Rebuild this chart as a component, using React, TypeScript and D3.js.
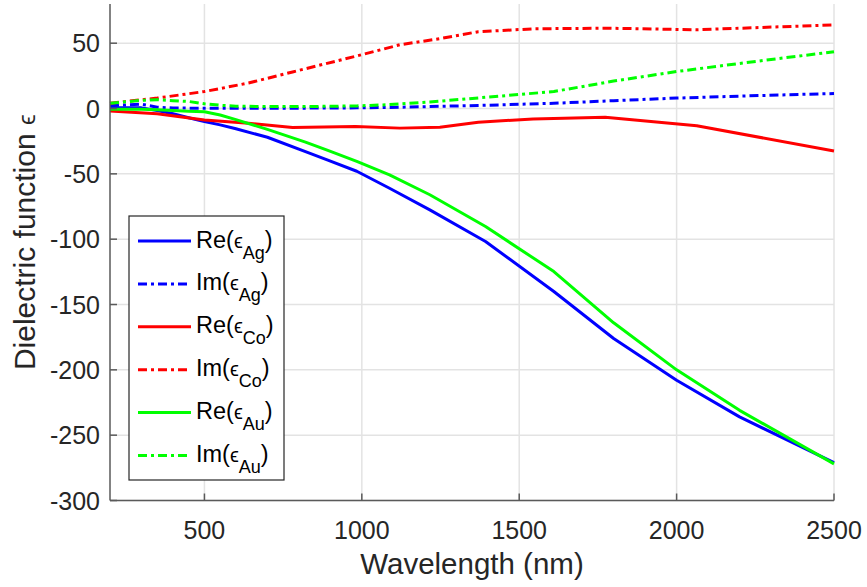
import React from "react";
import * as d3 from "d3";

// Wavelength grids (nm)
const lambdaAgAu = [200, 300, 350, 400, 450, 500, 550, 600, 700, 821, 892, 984, 1088, 1216, 1393, 1610, 1800, 2000, 2200, 2500];
const reAg = [0.5, 0.5, -1.5, -4, -7, -10, -12.5, -15.5, -22, -33, -39.5, -48, -61, -77.6, -101.8, -140, -176, -208, -236, -271];
const imAg = [2.2, 3.3, 1, 0.4, 0.3, 0.3, 0.3, 0.3, 0.3, 0.3, 0.4, 0.5, 0.8, 1.5, 2.5, 4, 6, 8, 9.5, 11.5];
const reAu = [-0.5, -0.5, -1, -1.5, -2, -2.5, -5, -8.5, -16, -25.7, -32, -40.5, -50.8, -66, -90.3, -124.8, -164, -200, -231, -272];
const imAu = [4, 6.3, 6.7, 6, 5.4, 3.6, 2.5, 1.8, 1.5, 1.5, 1.7, 2, 3, 5, 8.6, 13, 21, 28.3, 34.5, 43.5];

const lambdaCo = [200, 350, 500, 640, 780, 980, 1121, 1248, 1370, 1544, 1773, 2064, 2500];
const reCo = [-1.8, -4, -8.7, -11.2, -14.5, -13.8, -15, -14.3, -10.5, -8, -6.6, -13.2, -32.5];
const imCo = [4, 8, 13, 19.5, 28, 40, 48.8, 53.5, 58.8, 61, 61.5, 60.3, 64];

const xTicks = [500, 1000, 1500, 2000, 2500];
const yTicks = [-300, -250, -200, -150, -100, -50, 0, 50];

const seriesNames = [
  { re: true, sub: "Ag" },
  { re: false, sub: "Ag" },
  { re: true, sub: "Co" },
  { re: false, sub: "Co" },
  { re: true, sub: "Au" },
  { re: false, sub: "Au" },
];

const FONT = "'Liberation Sans', Arial, Helvetica, sans-serif";
const TXT = "#262626";

export default function App() {
  const W = 867, H = 587;
  const x = d3.scaleLinear().domain([200, 2500]).range([110, 834]);
  const y = d3.scaleLinear().domain([-300, 80]).range([500.5, 4]);

  const series = [
    { xs: lambdaAgAu, ys: reAg, color: "#0000ff", dash: null },
    { xs: lambdaAgAu, ys: imAg, color: "#0000ff", dash: "9,4,3,4" },
    { xs: lambdaCo, ys: reCo, color: "#ff0000", dash: null },
    { xs: lambdaCo, ys: imCo, color: "#ff0000", dash: "9,4,3,4" },
    { xs: lambdaAgAu, ys: reAu, color: "#00ff00", dash: null },
    { xs: lambdaAgAu, ys: imAu, color: "#00ff00", dash: "9,4,3,4" },
  ];

  const line = d3.line<[number, number]>().x((d) => x(d[0])).y((d) => y(d[1]));
  const [x0, x1] = x.range();
  const [yb, yt] = y.range();

  const legX = 129, legY = 216, legW = 155, legH = 264;
  const entryY = (i: number) => 241 + i * 42.9;

  return (
    <svg width={W} height={H} style={{ display: "block", position: "absolute", left: 0, top: 0 }} fontFamily={FONT}>
      <rect x={0} y={0} width={W} height={H} fill="#fff" />
      {/* grid */}
      {xTicks.map((t) => (
        <line key={"gx" + t} x1={x(t)} x2={x(t)} y1={yt} y2={yb} stroke="#e3e3e3" strokeWidth={1.5} />
      ))}
      {yTicks.map((t) => (
        <line key={"gy" + t} x1={x0} x2={x1} y1={y(t)} y2={y(t)} stroke="#e3e3e3" strokeWidth={1.5} />
      ))}
      {/* series */}
      {series.map((s, i) => (
        <path
          key={"s" + i}
          d={line(s.xs.map((v, j) => [v, s.ys[j]] as [number, number])) || ""}
          fill="none"
          stroke={s.color}
          strokeWidth={3}
          strokeDasharray={s.dash || undefined}
          strokeLinejoin="round"
        />
      ))}
      {/* axes */}
      <line x1={x0} x2={x0} y1={yt} y2={yb} stroke="#5a5a5a" strokeWidth={1.5} />
      <line x1={x0} x2={x1} y1={yb} y2={yb} stroke="#5a5a5a" strokeWidth={1.5} />
      {yTicks.map((t) => (
        <g key={"ty" + t}>
          <line x1={x0} x2={x0 + 7} y1={y(t)} y2={y(t)} stroke="#5a5a5a" strokeWidth={1.5} />
          <text x={100} y={y(t) + 9} textAnchor="end" fontSize={25} fill={TXT}>
            {t}
          </text>
        </g>
      ))}
      {xTicks.map((t) => (
        <g key={"tx" + t}>
          <line x1={x(t)} x2={x(t)} y1={yb} y2={yb - 7} stroke="#5a5a5a" strokeWidth={1.5} />
          <text x={x(t)} y={538.5} textAnchor="middle" fontSize={25} fill={TXT}>
            {t}
          </text>
        </g>
      ))}
      <text x={472} y={574} textAnchor="middle" fontSize={29.5} fill={TXT}>
        Wavelength (nm)
      </text>
      <text transform={`translate(35,${(yt + yb) / 2 - 10}) rotate(-90)`} textAnchor="middle" fontSize={30} fill={TXT}>
        Dielectric function <tspan fontSize={24}>ϵ</tspan>
      </text>
      {/* legend */}
      <rect x={legX} y={legY} width={legW} height={legH} fill="#fff" stroke={TXT} strokeWidth={1.2} />
      {seriesNames.map((n, i) => {
        const s = series[i];
        const cy = entryY(i);
        return (
          <g key={"lg" + i}>
            <line x1={138} x2={191} y1={cy} y2={cy} stroke={s.color} strokeWidth={3} strokeDasharray={s.dash || undefined} />
            <text x={196} y={cy + 6.5} fontSize={23.5} fill="#000">
              {n.re ? "Re(" : "Im("}
              <tspan fontSize={20}>ϵ</tspan>
              <tspan fontSize={18} dy={11}>{n.sub}</tspan>
              <tspan dy={-11}>)</tspan>
            </text>
          </g>
        );
      })}
    </svg>
  );
}
